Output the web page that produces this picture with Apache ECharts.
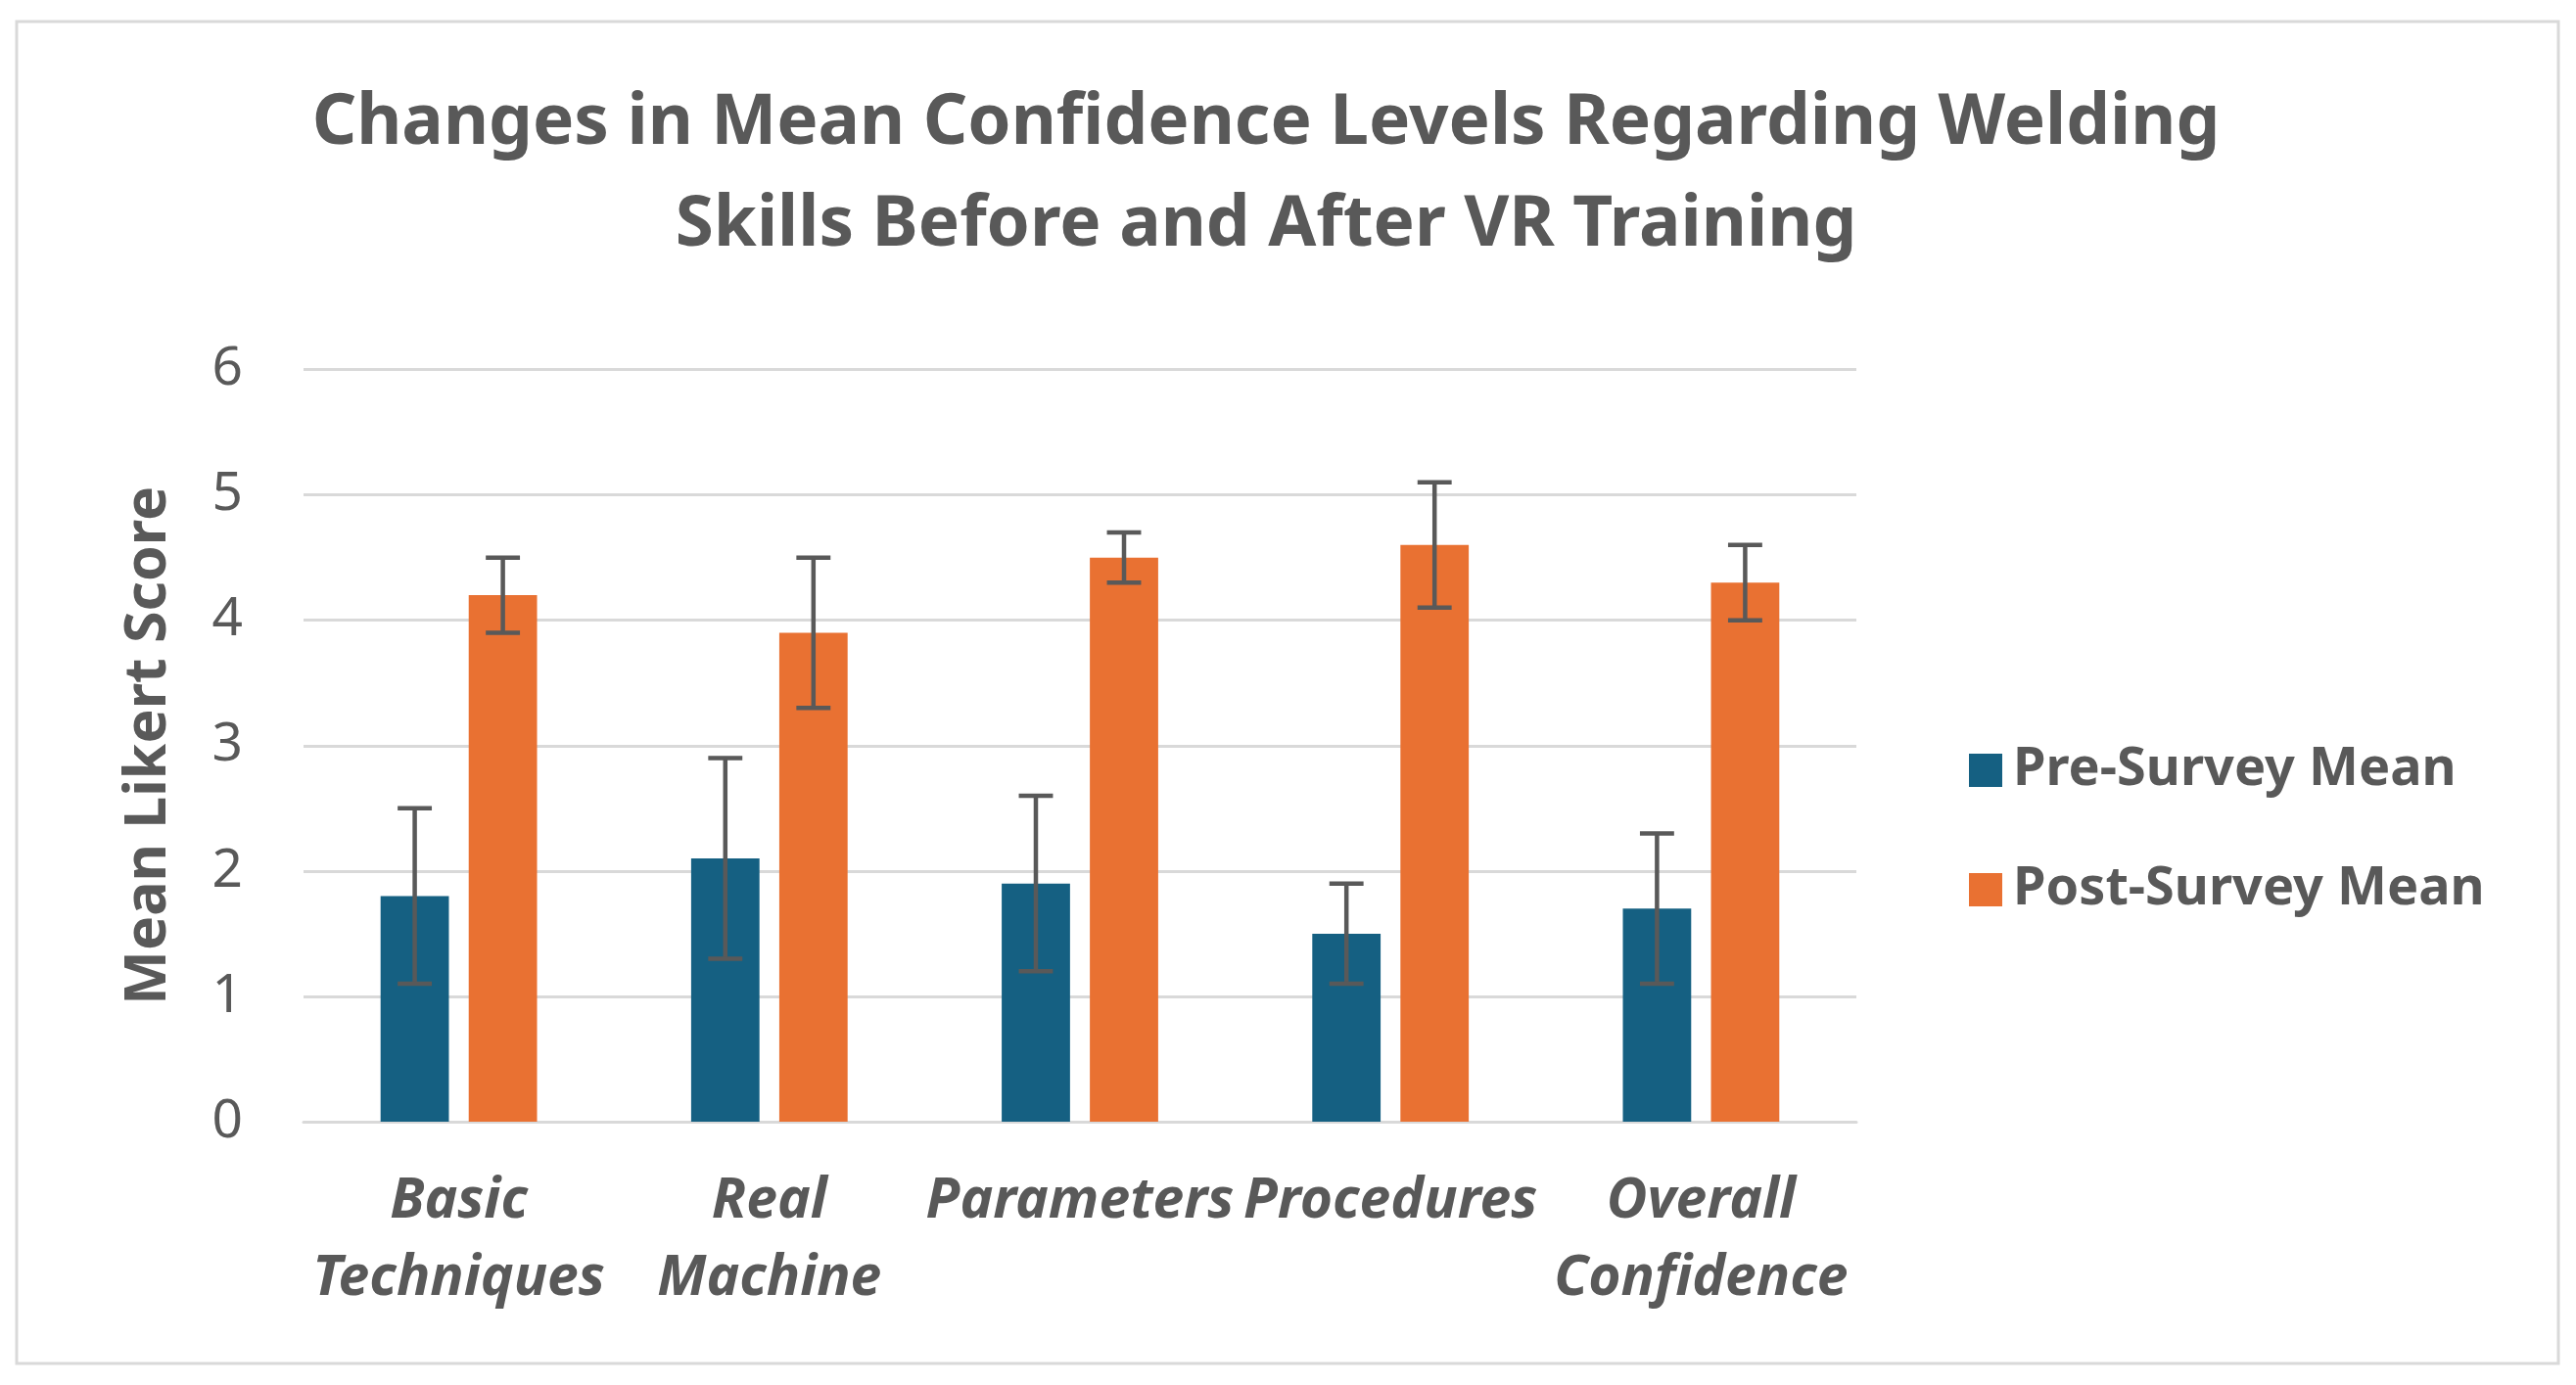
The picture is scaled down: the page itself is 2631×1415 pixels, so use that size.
<!DOCTYPE html>
<html>
<head>
<meta charset="utf-8">
<script src="https://cdn.jsdelivr.net/npm/echarts@6/dist/echarts.min.js"></script>
<style>
html,body{margin:0;padding:0;background:#fff;}
#chart{width:2631px;height:1415px;}
</style>
</head>
<body>
<div id="chart"></div>
<script>
const categories = ['Basic\nTechniques', 'Real\nMachine', 'Parameters', 'Procedures', 'Overall\nConfidence'];
const preMean = [1.8, 2.1, 1.9, 1.5, 1.7];
const postMean = [4.2, 3.9, 4.5, 4.6, 4.3];
const preErr = [0.7, 0.8, 0.7, 0.4, 0.6];
const postErr = [0.3, 0.6, 0.2, 0.5, 0.3];
const yTicks = [0, 1, 2, 3, 4, 5, 6];

const FONT = '"Noto Sans", "Open Sans", sans-serif';
const TEXT = '#595959';
const BAR_FRAC = 0.22;
const GAP_FRAC = 0.29;

function errRender(sign) {
  return function (params, api) {
    const i = api.value(0);
    const lo = api.coord([i, api.value(1)]);
    const hi = api.coord([i, api.value(2)]);
    const band = api.size([1, 0])[0];
    const bw = band * BAR_FRAC;
    const x = lo[0] + sign * bw * (1 + GAP_FRAC) / 2;
    const cap = bw * 0.25;
    const st = { stroke: '#595959', lineWidth: 4.5 };
    return {
      type: 'group',
      children: [
        { type: 'line', shape: { x1: x, y1: lo[1], x2: x, y2: hi[1] }, style: st },
        { type: 'line', shape: { x1: x - cap, y1: lo[1], x2: x + cap, y2: lo[1] }, style: st },
        { type: 'line', shape: { x1: x - cap, y1: hi[1], x2: x + cap, y2: hi[1] }, style: st }
      ]
    };
  };
}

const chart = echarts.init(document.getElementById('chart'));
chart.setOption({
  backgroundColor: '#fff',
  animation: false,
  graphic: [{
    type: 'rect', shape: { x: 17, y: 22, width: 2596, height: 1371 },
    style: { fill: 'none', stroke: '#d9d9d9', lineWidth: 3 }, silent: true, z: -1
  }],
  title: {
    text: 'Changes in Mean Confidence Levels Regarding Welding\nSkills Before and After VR Training',
    left: 1288, top: 70, textAlign: 'center',
    textStyle: { fontFamily: FONT, fontWeight: 'bold', fontSize: 71, color: TEXT, lineHeight: 104 }
  },
  legend: {
    orient: 'vertical', left: 2006, top: 752,
    data: ['Pre-Survey Mean', 'Post-Survey Mean'],
    icon: 'rect', itemWidth: 34, itemHeight: 34, itemGap: 62,
    textStyle: { fontFamily: FONT, fontWeight: 'bold', fontSize: 54, color: TEXT, lineHeight: 60, padding: [0, 0, 0, 6] }
  },
  grid: { left: 310, right: 735, top: 377.5, bottom: 269, containLabel: false },
  xAxis: {
    type: 'category', data: categories,
    axisLine: { lineStyle: { color: '#d9d9d9', width: 3 } },
    axisTick: { show: false },
    axisLabel: {
      interval: 0, margin: 42, fontFamily: FONT, fontWeight: 'bold', fontStyle: 'italic',
      fontSize: 57, color: TEXT, lineHeight: 79
    }
  },
  yAxis: {
    type: 'value', min: yTicks[0], max: yTicks[yTicks.length - 1], interval: 1,
    name: 'Mean Likert Score', nameLocation: 'middle', nameGap: 128, nameRotate: 90,
    nameTextStyle: { fontFamily: FONT, fontWeight: 'bold', fontSize: 59, color: TEXT },
    axisLine: { show: false }, axisTick: { show: false },
    axisLabel: { margin: 62, fontFamily: FONT, fontSize: 55, color: TEXT },
    splitLine: { lineStyle: { color: '#d9d9d9', width: 3 } }
  },
  series: [
    { name: 'Pre-Survey Mean', type: 'bar', data: preMean, barWidth: (BAR_FRAC * 100) + '%', barGap: (GAP_FRAC * 100) + '%',
      itemStyle: { color: '#156082' } },
    { name: 'Post-Survey Mean', type: 'bar', data: postMean, barWidth: (BAR_FRAC * 100) + '%', barGap: (GAP_FRAC * 100) + '%',
      itemStyle: { color: '#E97132' } },
    { name: 'Pre Error', type: 'custom', renderItem: errRender(-1), z: 10,
      encode: { x: 0, y: [1, 2] },
      data: preMean.map((v, i) => [i, v - preErr[i], v + preErr[i]]) },
    { name: 'Post Error', type: 'custom', renderItem: errRender(1), z: 10,
      encode: { x: 0, y: [1, 2] },
      data: postMean.map((v, i) => [i, v - postErr[i], v + postErr[i]]) }
  ]
});
</script>
</body>
</html>
